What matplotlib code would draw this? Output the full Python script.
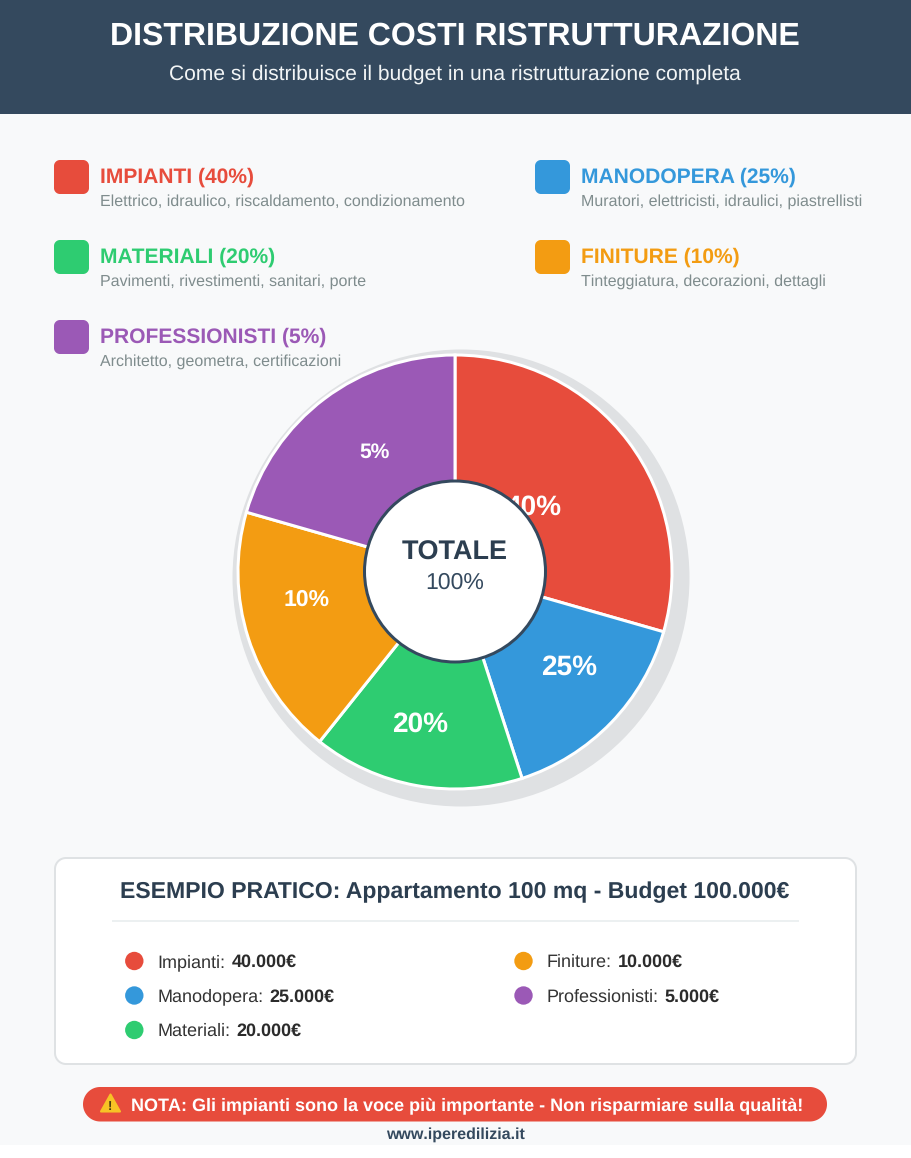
import numpy as np
import matplotlib
matplotlib.use("Agg")
import matplotlib.pyplot as plt
from matplotlib.patches import Circle, Polygon, Rectangle

plt.rcParams['font.family'] = ['Liberation Sans', 'DejaVu Sans']
plt.rcParams['text.hinting'] = 'no_hinting'
plt.rcParams['text.hinting_factor'] = 1

W, H = 912, 1158

# ---- data ----
title = "DISTRIBUZIONE COSTI RISTRUTTURAZIONE"
subtitle = "Come si distribuisce il budget in una ristrutturazione completa"
categories = ["IMPIANTI", "MANODOPERA", "MATERIALI", "FINITURE", "PROFESSIONISTI"]
names = ["Impianti", "Manodopera", "Materiali", "Finiture", "Professionisti"]
percent_labels = ["40%", "25%", "20%", "10%", "5%"]
wedge_degrees = [106, 56, 56.6, 67.4, 74]   # as drawn in the picture
descriptions = [
    "Elettrico, idraulico, riscaldamento, condizionamento",
    "Muratori, elettricisti, idraulici, piastrellisti",
    "Pavimenti, rivestimenti, sanitari, porte",
    "Tinteggiatura, decorazioni, dettagli",
    "Architetto, geometra, certificazioni",
]
amounts = ["40.000€", "25.000€", "20.000€", "10.000€", "5.000€"]
colors = ["#e74c3c", "#3498db", "#2ecc71", "#f39c12", "#9b59b6"]
example_title = "ESEMPIO PRATICO: Appartamento 100 mq - Budget 100.000€"
note = "NOTA: Gli impianti sono la voce più importante - Non risparmiare sulla qualità!"
site = "www.iperedilizia.it"

DARK = "#2c3e50"
HEAD = "#34495e"
BG = "#f8f9fa"


def px(s):
    return s * 0.72


def Y(y):
    return H - y


fig = plt.figure(figsize=(W / 100, H / 100), dpi=100, facecolor="white")
ax = fig.add_axes([0, 0, 1, 1])


def T(x, y, s, size, color, weight="normal", ha="left", z=10):
    return ax.text(x, Y(y), s, fontsize=px(size), color=color, fontweight=weight,
                   ha=ha, va="baseline", zorder=z)


def RR(x0, y0, x1, y1, r, fc, ec="none", lw=0, z=2):
    a = np.linspace(0, np.pi / 2, 24)
    corners = [(x1 - r, y1 - r, 0), (x0 + r, y1 - r, np.pi / 2),
               (x0 + r, y0 + r, np.pi), (x1 - r, y0 + r, 1.5 * np.pi)]
    pts = []
    for cx, cy, start in corners:
        for t in a:
            pts.append((cx + r * np.cos(start + t), Y(cy + r * np.sin(start + t))))
    ax.add_patch(Polygon(pts, closed=True, fc=fc, ec=ec, lw=lw, zorder=z))


# pie
ax.add_patch(Circle((461, Y(578)), 228.5, fc="#dfe1e3", ec="none", zorder=3))
ax.pie(wedge_degrees, colors=colors, startangle=90, counterclock=False,
       center=(455, Y(572)), radius=217, frame=False,
       wedgeprops=dict(edgecolor="white", linewidth=px(3), zorder=4))

ax.set_xlim(0, W)
ax.set_ylim(0, H)
ax.set_aspect("auto")
ax.axis("off")

# backgrounds
ax.add_patch(Rectangle((0, Y(1145)), W, 1145, fc=BG, ec="none", zorder=0))
ax.add_patch(Rectangle((0, Y(114)), W, 114, fc=HEAD, ec="none", zorder=1))

T(455, 44.5, title, 32, "white", "bold", "center")
T(455, 80, subtitle, 20.6, "#f2f5f6", ha="center")

# legend
swatch_slots = [(54, 160), (535, 160), (54, 240), (535, 240), (54, 320)]
for (sx, sy), cat, pct, desc, col in zip(swatch_slots, categories, percent_labels, descriptions, colors):
    RR(sx, sy, sx + 35, sy + 34, 6, col, z=5)
    T(sx + 46, sy + 23, f"{cat} ({pct})", 21, col, "bold")
    T(sx + 46, sy + 45.5, desc, 16, "#7f8c8d")

# pie labels, beneath the hole
label_slots = [(534, 515, 28), (569.5, 675, 27.7), (420.5, 732, 27.5), (306.5, 606, 22.8), (375, 458, 21.5)]
for (lx, ly, ls), lab in zip(label_slots, percent_labels):
    T(lx, ly, lab, ls, "white", "bold", "center", z=6)

ax.add_patch(Circle((455, Y(571.5)), 90.5, fc="white", ec=HEAD, lw=px(3), zorder=7))
T(455, 560, "TOTALE", 27, DARK, "bold", "center", z=8)
T(455, 589, "100%", 22.8, HEAD, ha="center", z=8)

# example panel
RR(55, 858, 856, 1064, 11, "white", ec="#dfe2e4", lw=px(2), z=2)
T(455, 898, example_title, 22.7, DARK, "bold", "center")
ax.plot([112, 799], [Y(921), Y(921)], color="#ecf0f1", lw=px(2), zorder=3, solid_capstyle="butt")

item_slots = [(134.3, 961), (134.3, 995.5), (134.3, 1030), (523.5, 961), (523.5, 995.5)]
fig.canvas.draw()
rend = fig.canvas.get_renderer()
for (dx, dy), nm, am, col in zip(item_slots, names, amounts, colors):
    ax.add_patch(Circle((dx, Y(dy)), 9.2, fc=col, ec="none", zorder=5))
    t = T(dx + 23, dy + 6.2, f"{nm}:", 18, "#333333")
    e = t.get_window_extent(rend)
    T(e.x1 + 6.2, dy + 6.2, am, 18, "#2b2b2b", "bold")

# note pill
RR(83, 1087, 827, 1121.5, 17.2, "#e74c3c", z=3)
ax.add_patch(Polygon([(110.5, Y(1094.5)), (120, Y(1111.5)), (101, Y(1111.5))], closed=True,
                     fc="#f7c325", ec="#f7c325", lw=1.5, joinstyle="round", zorder=5))
T(110.4, 1110.5, "!", 13, "#4a3a10", "bold", "center", z=6)
T(131, 1110, note, 18, "white", "bold")
T(455, 1139, site, 16, HEAD, "bold", "center")

fig.savefig("out.png", dpi=100, facecolor="white")
